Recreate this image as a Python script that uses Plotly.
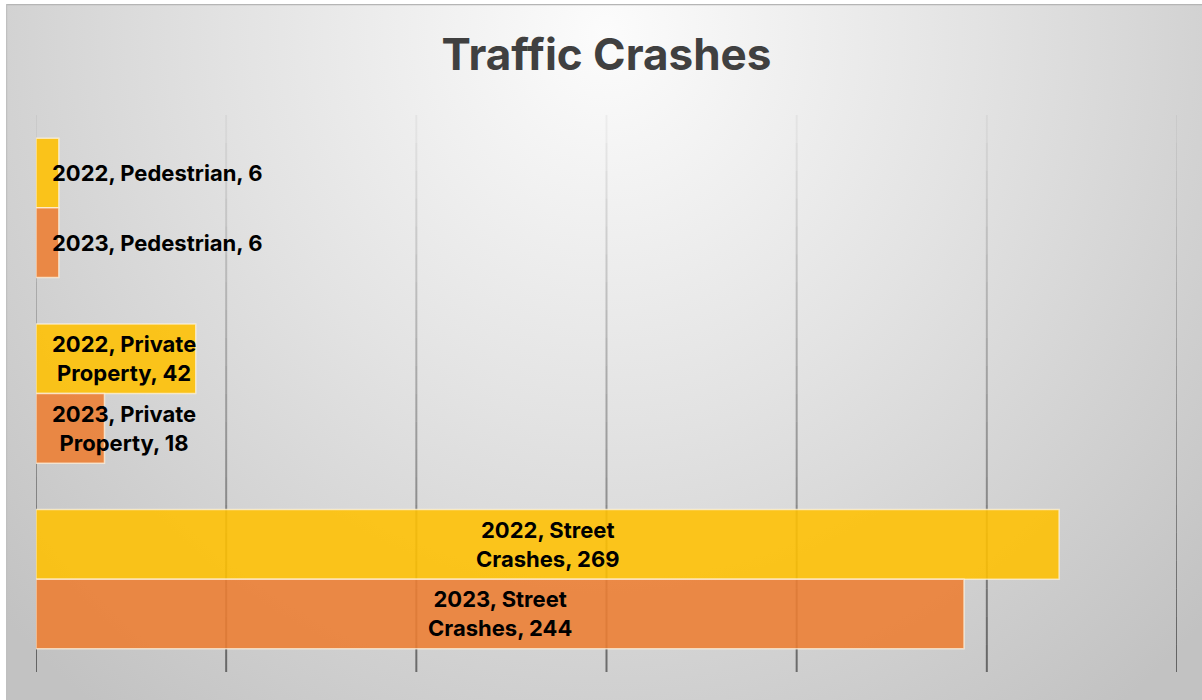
import base64
import plotly.graph_objects as go

categories = ["Pedestrian", "Private Property", "Street Crashes"]
years = ["2022", "2023"]
values_2022 = [6, 42, 269]
values_2023 = [6, 18, 244]
x_ticks = [0, 50, 100, 150, 200, 250, 300]
title_text = "Traffic Crashes"

series = {"2022": values_2022, "2023": values_2023}
colors = {"2022": "rgba(255,192,0,0.88)", "2023": "rgba(237,125,49,0.88)"}

W, H = 1202, 700
ML, MR, MT, MB = 36, 25, 115, 28

fig = go.Figure()
for yr in years:
    fig.add_trace(go.Bar(
        y=categories, x=series[yr], name=yr, orientation="h",
        marker=dict(color=colors[yr], line=dict(color="rgba(255,245,225,0.7)", width=1.5)),
        hoverinfo="x+y",
    ))


def label(yr, cat, val):
    parts = cat.split(" ")
    if len(parts) > 1:
        return f"{yr}, {parts[0]}<br>{' '.join(parts[1:])}, {val}"
    return f"{yr}, {cat}, {val}"


annotations = []
n_series = len(years)
for si, yr in enumerate(years):
    for cat, val in zip(categories, series[yr]):
        offset = (si - (n_series - 1) / 2) * 0.375
        ci = categories.index(cat)
        small = val < 100
        annotations.append(dict(
            x=0 if small else val / 2, y=ci + offset, xref="x", yref="y",
            xanchor="left" if small else "center", xshift=14 if small else 0,
            yanchor="middle", text=f"<b>{label(yr, cat, val)}</b>", showarrow=False,
            align="center", font=dict(family="Inter, Arial, sans-serif", size=22, color="#000000"),
        ))

# gradient gridlines
shapes = []
nseg = 20
for t in x_ticks:
    for k in range(nseg):
        y0 = 1 - k / nseg
        y1 = 1 - (k + 1) / nseg
        a = 0.03 + 0.47 * (k + 0.5) / nseg
        shapes.append(dict(type="line", xref="x", yref="paper", x0=t, x1=t, y0=y0, y1=y1,
                           line=dict(color=f"rgba(0,0,0,{a:.3f})", width=2), layer="below"))

# radial gradient background card
svg = f'''<svg xmlns="http://www.w3.org/2000/svg" width="1196" height="696" viewBox="0 0 1196 696">
<defs><radialGradient id="g" cx="600" cy="30" r="820" gradientUnits="userSpaceOnUse"
 gradientTransform="translate(600 30) scale(1 1.05) translate(-600 -30)">
<stop offset="0" stop-color="#FCFCFC"/><stop offset="0.45" stop-color="#E3E3E3"/>
<stop offset="1" stop-color="#C2C2C2"/></radialGradient></defs>
<rect x="0" y="0" width="1196" height="696" fill="url(#g)"/>
<line x1="0" y1="0.5" x2="1196" y2="0.5" stroke="#B5B5B5" stroke-width="1.5"/>
<line x1="0.5" y1="0" x2="0.5" y2="696" stroke="#C0C0C0" stroke-width="1.5"/>
</svg>'''
src = "data:image/svg+xml;base64," + base64.b64encode(svg.encode()).decode()
pw = W - ML - MR
ph = H - MT - MB
img = dict(source=src, xref="paper", yref="paper",
           x=(6 - ML) / pw, y=(H - MB - 4) / ph,
           sizex=(W - 6) / pw, sizey=(H - 4) / ph,
           sizing="stretch", xanchor="left", yanchor="top", layer="below")

fig.update_layout(
    width=W, height=H,
    margin=dict(l=ML, r=MR, t=MT, b=MB),
    paper_bgcolor="white", plot_bgcolor="rgba(0,0,0,0)",
    barmode="group", bargap=0.25, bargroupgap=0,
    showlegend=False,
    title=dict(text=f"<b>{title_text}</b>", x=0.5, xref="paper", y=1 - 55 / H, yref="container",
               xanchor="center", yanchor="middle",
               font=dict(family="Inter, Arial, sans-serif", size=44, color="#404040")),
    xaxis=dict(range=[0, 300], tickvals=x_ticks, showgrid=False, zeroline=False,
               showticklabels=False, showline=False, fixedrange=True),
    yaxis=dict(autorange="reversed", showticklabels=False, showgrid=False, zeroline=False,
               showline=False, fixedrange=True),
    annotations=annotations, shapes=shapes, images=[img],
)

fig.write_html("out.html")
